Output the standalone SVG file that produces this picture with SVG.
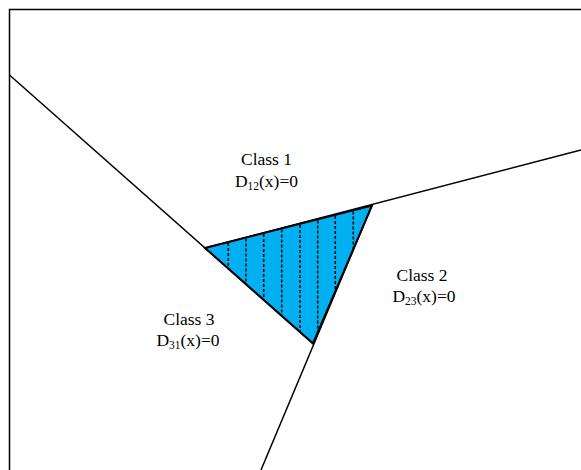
<svg xmlns="http://www.w3.org/2000/svg" width="581" height="470" viewBox="0 0 581 470">
<style>
.ln{stroke:#000;stroke-width:1.5;fill:none}
.dash{stroke:#000;stroke-width:1.5;stroke-dasharray:3,2;fill:none}
text{font-family:"Liberation Serif","Times New Roman",serif;font-size:17.5px;fill:#000;text-anchor:middle}
.sub{font-size:11.5px}
</style>
<rect width="581" height="470" fill="#fff"/>
<g id="frame">
<path class="ln" d="M9.5,470 V9.5 H581"/>
</g>
<g id="region">
<polygon points="205,248 372,205.5 313,343.5" fill="#00B0F0"/>
<g id="hatch">
<line class="dash" x1="228.3" y1="243" x2="228.3" y2="268"/>
<line class="dash" x1="246" y1="238.5" x2="246" y2="284"/>
<line class="dash" x1="263.7" y1="234" x2="263.7" y2="299.5"/>
<line class="dash" x1="281.7" y1="229.5" x2="281.7" y2="315.5"/>
<line class="dash" x1="300" y1="225" x2="300" y2="331.5"/>
<line class="dash" x1="317.7" y1="220.5" x2="317.7" y2="331.5"/>
<line class="dash" x1="335.3" y1="216" x2="335.3" y2="290.5"/>
<line class="dash" x1="353.3" y1="211.5" x2="353.3" y2="248.5"/>
</g>
<polygon points="205,248 372,205.5 313,343.5" fill="none" stroke="#000" stroke-width="2"/>
</g>
<g id="connectors">
<line class="ln" x1="9.5" y1="75" x2="313" y2="343.5"/>
<line class="ln" x1="205" y1="248" x2="581" y2="150"/>
<line class="ln" x1="372" y1="205.5" x2="261" y2="470"/>
</g>
<g id="class1">
<text x="266.5" y="165">Class 1</text>
<text x="266.5" y="187">D<tspan class="sub" dy="3">12</tspan><tspan dy="-3">(x)=0</tspan></text>
</g>
<g id="class2">
<text x="422" y="281">Class 2</text>
<text x="424" y="302">D<tspan class="sub" dy="3">23</tspan><tspan dy="-3">(x)=0</tspan></text>
</g>
<g id="class3">
<text x="189" y="325">Class 3</text>
<text x="188" y="346">D<tspan class="sub" dy="3">31</tspan><tspan dy="-3">(x)=0</tspan></text>
</g>
</svg>
